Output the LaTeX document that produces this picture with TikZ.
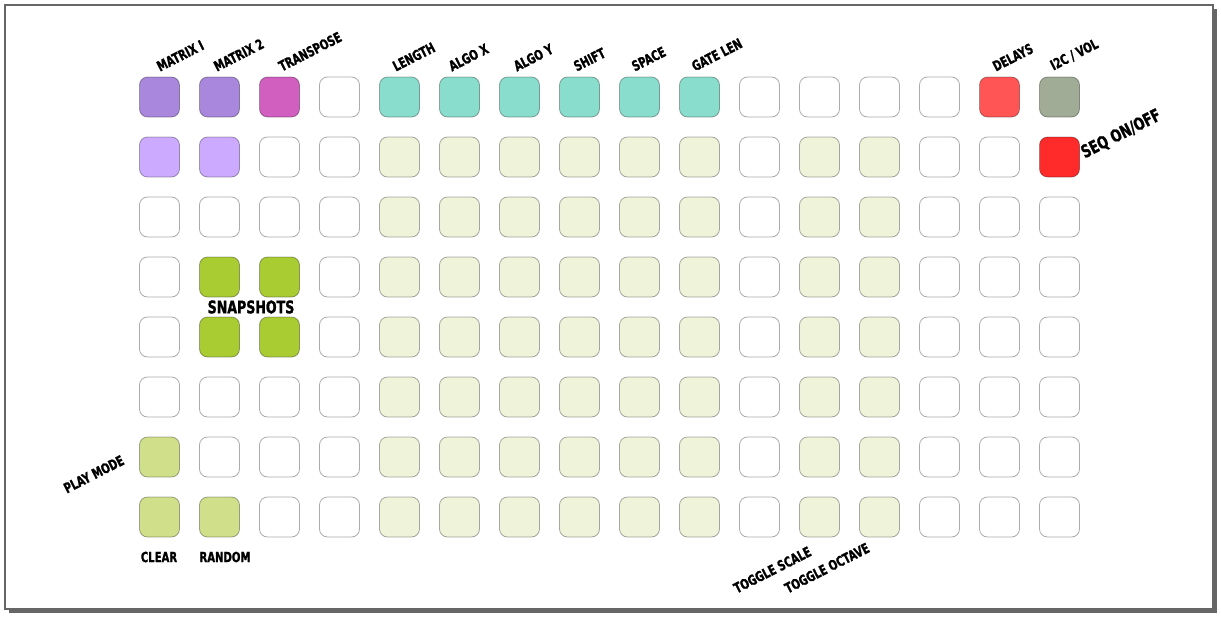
\documentclass[tikz,border=0pt]{standalone}
\usepackage{fontspec}
\newfontfamily\labfont{DejaVu Sans}[FakeStretch=0.72, BoldFeatures={FakeBold=1.3}]
\definecolor{colw}{HTML}{FFFFFF}
\definecolor{colp}{HTML}{A887DD}
\definecolor{colt}{HTML}{D05FBF}
\definecolor{coll}{HTML}{CCAAFF}
\definecolor{colq}{HTML}{88DDCC}
\definecolor{colg}{HTML}{EEF3D9}
\definecolor{cols}{HTML}{AACC33}
\definecolor{colo}{HTML}{D0E08A}
\definecolor{cold}{HTML}{FF5555}
\definecolor{coli}{HTML}{A0AC96}
\definecolor{colr}{HTML}{FF2A2A}
\definecolor{frame}{HTML}{666666}
\begin{document}
\begin{tikzpicture}[x=1pt,y=-1pt,
  cell/.style={draw=black, draw opacity=0.33, line width=0.8pt, rounded corners=8pt,
    minimum size=40pt, inner sep=0pt},
  toplab/.style={font=\labfont\bfseries\fontsize{14}{16}\selectfont, inner sep=0pt,
    anchor=south west, rotate=27},
  biglab/.style={font=\labfont\bfseries\fontsize{17.5}{20}\selectfont, inner sep=0pt},
  flatlab/.style={font=\labfont\bfseries\fontsize{14}{16}\selectfont, inner sep=0pt}]
\useasboundingbox (0,0) rectangle (1221,616);
% frame with shadow
\fill[frame] (9,9) rectangle (1217,613);
\draw[frame, fill=white, line width=1.3pt] (5,5) rectangle (1213,609);
% grid
\foreach \row [count=\r] in {
  {p,p,t,w,q,q,q,q,q,q,w,w,w,w,d,i},
  {l,l,w,w,g,g,g,g,g,g,w,g,g,w,w,r},
  {w,w,w,w,g,g,g,g,g,g,w,g,g,w,w,w},
  {w,s,s,w,g,g,g,g,g,g,w,g,g,w,w,w},
  {w,s,s,w,g,g,g,g,g,g,w,g,g,w,w,w},
  {w,w,w,w,g,g,g,g,g,g,w,g,g,w,w,w},
  {o,w,w,w,g,g,g,g,g,g,w,g,g,w,w,w},
  {o,o,w,w,g,g,g,g,g,g,w,g,g,w,w,w}}{
  \foreach \c [count=\k] in \row {
    \node[cell, fill=col\c] (c\r-\k) at ({99.5+60*\k},{37+60*\r}) {};
  }
}
% top labels
\node[toplab] (lm1) at (160,72) {MATRIX I};
\node[toplab] (lm2) at (217,72) {MATRIX 2};
\node[toplab] (ltr) at (282,72) {TRANSPOSE};
\node[toplab] (lle) at (396,72) {LENGTH};
\node[toplab] (lax) at (452,72) {ALGO X};
\node[toplab] (lay) at (517,72) {ALGO Y};
\node[toplab] (lsh) at (577,72) {SHIFT};
\node[toplab] (lsp) at (635,72) {SPACE};
\node[toplab] (lgl) at (695,72) {GATE LEN};
\node[toplab] (lde) at (996,72) {DELAYS};
\node[toplab] (li2) at (1054,72) {I2C / VOL};
% other labels
\node[biglab, anchor=south west, rotate=27] (lseq) at (1086,161) {SEQ ON/OFF};
\node[biglab] (lsnap) at (251,307) {SNAPSHOTS};
\node[toplab] (lpm) at (67,494) {PLAY MODE};
\node[flatlab] (lcl) at (159,557) {CLEAR};
\node[flatlab] (lra) at (225,557) {RANDOM};
\node[toplab] (lts) at (737,594) {TOGGLE SCALE};
\node[toplab] (lto) at (788,594) {TOGGLE OCTAVE};
\end{tikzpicture}
\end{document}
